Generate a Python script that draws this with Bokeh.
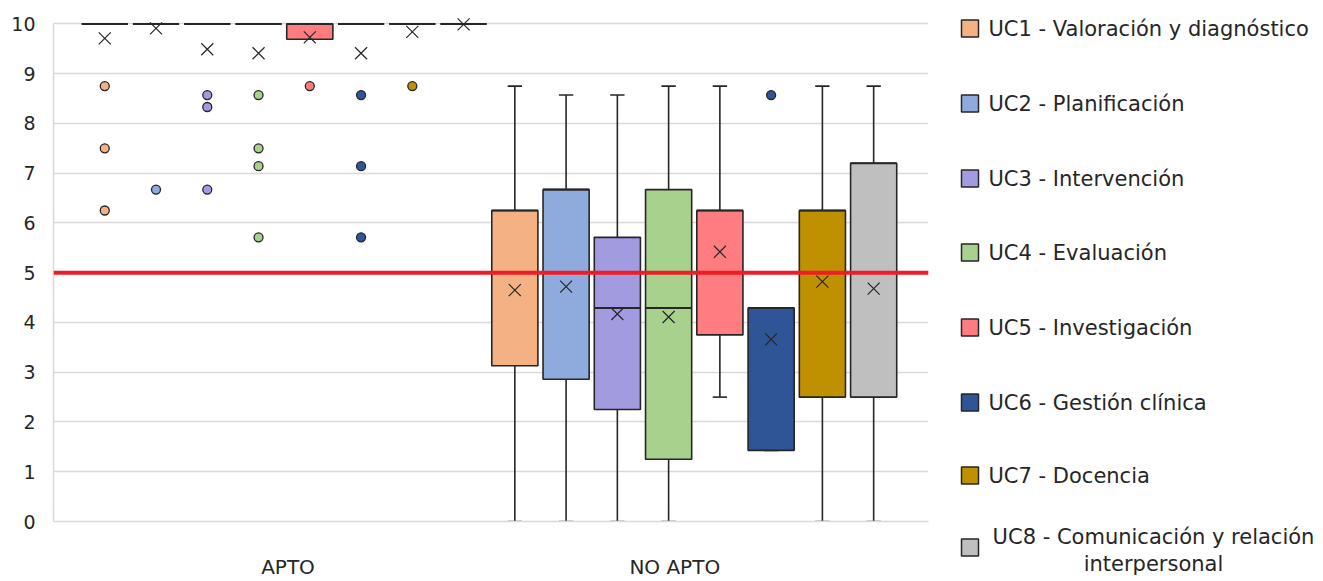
from bokeh.plotting import figure
from bokeh.models import Range1d, FixedTicker, Span
from bokeh.layouts import row
from bokeh.core.properties import value
from bokeh.embed import file_html
from bokeh.resources import INLINE

# ---------------- data ----------------
groups = ["APTO", "NO APTO"]
series = ["UC1 - Valoración y diagnóstico", "UC2 - Planificación", "UC3 - Intervención",
          "UC4 - Evaluación", "UC5 - Investigación", "UC6 - Gestión clínica",
          "UC7 - Docencia", "UC8 - Comunicación y relación interpersonal"]
colors = ["#F4B183", "#8FAADC", "#A29BE0", "#A9D18E", "#FF7C80", "#2F5597", "#BF9000", "#BFBFBF"]

apto_lower = [10, 10, 10, 10, 9.69, 10, 10, 10]
apto_q1 = [10, 10, 10, 10, 9.69, 10, 10, 10]
apto_median = [10, 10, 10, 10, 10, 10, 10, 10]
apto_q3 = [10, 10, 10, 10, 10, 10, 10, 10]
apto_upper = [10, 10, 10, 10, 10, 10, 10, 10]
apto_mean = [9.71, 9.91, 9.49, 9.41, 9.73, 9.41, 9.84, 9.99]
apto_outliers = [[8.75, 7.5, 6.25], [6.67], [8.57, 8.33, 6.67], [8.57, 7.5, 7.14, 5.71],
                 [8.75], [8.57, 7.14, 5.71], [8.75], []]

noapto_lower = [0, 0, 0, 0, 2.5, 1.43, 0, 0]
noapto_q1 = [3.13, 2.86, 2.25, 1.25, 3.75, 1.43, 2.5, 2.5]
noapto_median = [6.25, 6.67, 4.29, 4.29, 6.25, 4.29, 6.25, 7.2]
noapto_q3 = [6.25, 6.67, 5.71, 6.67, 6.25, 4.29, 6.25, 7.2]
noapto_upper = [8.75, 8.57, 8.57, 8.75, 8.75, 4.29, 8.75, 8.75]
noapto_mean = [4.65, 4.72, 4.17, 4.11, 5.42, 3.66, 4.82, 4.68]
noapto_outliers = [[], [], [], [], [], [8.57], [], []]

threshold = 5
y_ticks = [0, 1, 2, 3, 4, 5, 6, 7, 8, 9, 10]

stats = [
    dict(lower=apto_lower, q1=apto_q1, med=apto_median, q3=apto_q3, upper=apto_upper,
         mean=apto_mean, out=apto_outliers),
    dict(lower=noapto_lower, q1=noapto_q1, med=noapto_median, q3=noapto_q3, upper=noapto_upper,
         mean=noapto_mean, out=noapto_outliers),
]

FONT = "DejaVu Sans"
TXT = "#262626"
EDGE = "#262626"
GRID = "#D9D9D9"

# ---------------- main plot ----------------
p = figure(width=940, height=581, output_backend="svg", toolbar_location=None,
           x_range=Range1d(-1.0, 16.07), y_range=Range1d(0, 10.45),
           min_border_left=53, min_border_right=12, min_border_top=1, min_border_bottom=59)
p.frame_align = False
p.outline_line_color = None
p.xgrid.grid_line_color = None
p.ygrid.grid_line_color = GRID
p.ygrid.grid_line_width = 1.5
p.ygrid.ticker = FixedTicker(ticks=y_ticks)

p.yaxis.ticker = FixedTicker(ticks=y_ticks)
p.yaxis.bounds = (0, 10)
p.yaxis.axis_line_color = GRID
p.yaxis.axis_line_width = 1.5
p.yaxis.major_tick_line_color = None
p.yaxis.minor_tick_line_color = None
p.yaxis.major_tick_out = 0
p.yaxis.major_label_standoff = 18
p.yaxis.major_label_text_font = FONT
p.yaxis.major_label_text_font_size = "19px"
p.yaxis.major_label_text_color = TXT

group_label_pos = [3.575, 11.12]
p.xaxis.ticker = FixedTicker(ticks=group_label_pos)
p.xaxis.major_label_overrides = {group_label_pos[i]: groups[i] for i in range(len(groups))}
p.xaxis.axis_line_color = GRID
p.xaxis.axis_line_width = 1.5
p.xaxis.major_tick_line_color = None
p.xaxis.minor_tick_line_color = None
p.xaxis.major_tick_out = 0
p.xaxis.major_label_standoff = 33
p.xaxis.major_label_text_font = FONT
p.xaxis.major_label_text_font_size = "20px"
p.xaxis.major_label_text_color = TXT

n = len(series)
box_w = 0.9
cap_w = 0.28
for g, st in enumerate(stats):
    xs = [g * n + i for i in range(n)]
    # whiskers
    p.segment(x0=xs, y0=st["q3"], x1=xs, y1=st["upper"], line_color=EDGE, line_width=1.6)
    p.segment(x0=xs, y0=st["q1"], x1=xs, y1=st["lower"], line_color=EDGE, line_width=1.6)
    p.segment(x0=[x - cap_w / 2 for x in xs], y0=st["upper"], x1=[x + cap_w / 2 for x in xs],
              y1=st["upper"], line_color=EDGE, line_width=1.6)
    p.segment(x0=[x - cap_w / 2 for x in xs], y0=st["lower"], x1=[x + cap_w / 2 for x in xs],
              y1=st["lower"], line_color=EDGE, line_width=1.6)
    # boxes
    p.vbar(x=xs, width=box_w, top=st["q3"], bottom=st["q1"], fill_color=colors,
           line_color=EDGE, line_width=1.6)
    p.segment(x0=[x - box_w / 2 for x in xs], y0=st["med"], x1=[x + box_w / 2 for x in xs],
              y1=st["med"], line_color=EDGE, line_width=2)
    # outliers
    ox, oy, oc = [], [], []
    for i in range(n):
        for v in st["out"][i]:
            ox.append(xs[i]); oy.append(v); oc.append(colors[i])
    if ox:
        p.scatter(x=ox, y=oy, marker="circle", size=9, fill_color=oc,
                  line_color=EDGE, line_width=1.3)

p.add_layout(Span(location=threshold, dimension="width", line_color="#EE1C25", line_width=4))

for g, st in enumerate(stats):
    xs = [g * n + i for i in range(n)]
    p.scatter(x=xs, y=st["mean"], marker="x", size=17, line_color=EDGE, line_width=1.2)

# ---------------- legend (drawn) ----------------
leg = figure(width=383, height=581, output_backend="svg", toolbar_location=None,
             x_range=Range1d(0, 383), y_range=Range1d(581, 0),
             x_axis_type=None, y_axis_type=None, min_border=0)
leg.frame_align = False
leg.outline_line_color = None
leg.xgrid.grid_line_color = None
leg.ygrid.grid_line_color = None

row_y = [28, 103, 178, 252, 327, 402, 475]
leg.rect(x=[29.5] * 7, y=row_y, width=17, height=17, fill_color=colors[:7],
         line_color=EDGE, line_width=1.5)
leg.text(x=[48] * 7, y=row_y, text=series[:7], text_font=value(FONT), text_font_size="21px",
         text_color=TXT, text_baseline="middle", text_align="left")
leg.rect(x=[29.5], y=[547], width=17, height=17, fill_color=colors[7:],
         line_color=EDGE, line_width=1.5)
last = series[7].replace(" relación ", " relación\n")
leg.text(x=[213], y=[550], text=[last], text_font=value(FONT), text_font_size="21px",
         text_color=TXT, text_baseline="middle", text_align="center", text_line_height=1.15)

layout = row(p, leg)
open("out.html", "w").write(file_html(layout, INLINE))
